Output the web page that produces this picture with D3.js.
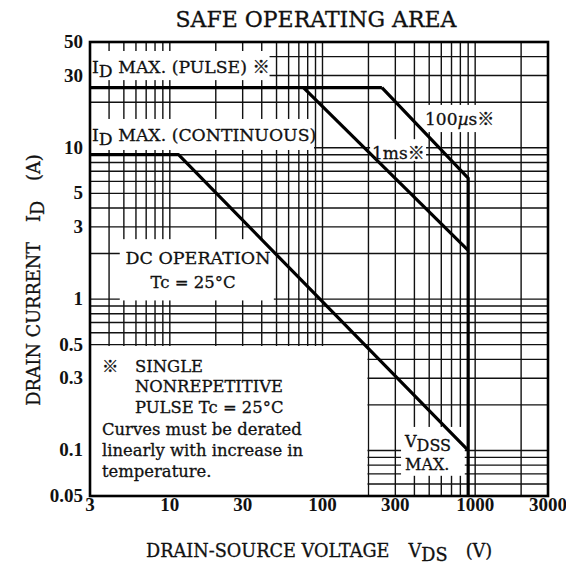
<!DOCTYPE html>
<html>
<head>
<meta charset="utf-8">
<script src="https://cdn.jsdelivr.net/npm/d3@7"></script>
<style>
  body { margin: 0; background: #fff; }
  text { font-family: "DejaVu Serif", "Liberation Serif", "Noto Sans CJK JP", serif; fill: #111; stroke: #111; stroke-width: 0.3; }
  .tick { font-family: "Liberation Serif", "DejaVu Serif", serif; font-weight: bold; stroke-width: 0; }
</style>
</head>
<body>
<div id="chart"></div>
<script>
// axis ticks
const xTicks = [3, 10, 30, 100, 300, 1000, 3000];
const yTicks = [0.05, 0.1, 0.3, 0.5, 1, 3, 5, 10, 30, 50];

// limit curves as [V, A] points
const pulseMax = [[3, 25], [245, 25]];
const oneMs = [[75, 25], [900, 2.1]];
const hundredUs = [[245, 25], [900, 6.3], [900, 0.05]];
const dcLimit = [[3, 9], [11.4, 9], [900, 0.1]];

// blank patches of the printed grid behind the labels, [V0, V1, A0, A1]
const blankBoxes = [
  [3, 45, 28, 43.6],
  [3, 88, 9.67, 15.5],
  [4.7, 48, 0.98, 2.49],
  [3, 197, 0.05, 0.49],
  [327, 855, 0.068, 0.143],
  [447, 1450, 12.7, 19.2],
  [205, 477, 8.2, 11.4]
];

const width = 566, height = 564;
const marginLeft = 90, marginRight = 18, marginTop = 42, marginBottom = 68;

const x = d3.scaleLog([3, 3000], [marginLeft, width - marginRight]);
const y = d3.scaleLog([0.05, 50], [height - marginBottom, marginTop]);

const svg = d3.select("#chart")
  .append("svg")
  .attr("width", width)
  .attr("height", height)
  .attr("viewBox", [0, 0, width, height]);

// grid
const grid = svg.append("g").attr("stroke", "#111").attr("stroke-width", 1.4);
grid.selectAll(".vx")
  .data(x.ticks())
  .join("line")
  .attr("x1", d => x(d)).attr("x2", d => x(d))
  .attr("y1", y(50)).attr("y2", y(0.05));
grid.selectAll(".hy")
  .data(y.ticks())
  .join("line")
  .attr("y1", d => y(d)).attr("y2", d => y(d))
  .attr("x1", x(3)).attr("x2", x(3000));

// white patches
svg.append("g")
  .selectAll("rect")
  .data(blankBoxes)
  .join("rect")
  .attr("x", d => x(d[0]))
  .attr("y", d => y(d[3]))
  .attr("width", d => x(d[1]) - x(d[0]))
  .attr("height", d => y(d[2]) - y(d[3]))
  .attr("fill", "#fff");

// curves
const line = d3.line().x(d => x(d[0])).y(d => y(d[1]));
svg.append("g")
  .attr("fill", "none")
  .attr("stroke", "#000")
  .attr("stroke-width", 3.2)
  .attr("stroke-linejoin", "round")
  .selectAll("path")
  .data([pulseMax, oneMs, hundredUs, dcLimit])
  .join("path")
  .attr("d", line);

// frame
svg.append("rect")
  .attr("x", x(3)).attr("y", y(50))
  .attr("width", x(3000) - x(3))
  .attr("height", y(0.05) - y(50))
  .attr("fill", "none")
  .attr("stroke", "#000")
  .attr("stroke-width", 2.6);

// tick labels
svg.append("g")
  .selectAll("text")
  .data(yTicks)
  .join("text")
  .attr("class", "tick")
  .attr("x", x(3) - 7)
  .attr("y", d => y(d) + 6)
  .attr("text-anchor", "end")
  .attr("font-size", 19)
  .text(d => d);

svg.append("g")
  .selectAll("text")
  .data(xTicks)
  .join("text")
  .attr("class", "tick")
  .attr("x", d => x(d))
  .attr("y", y(0.05) + 15)
  .attr("text-anchor", "middle")
  .attr("font-size", 19)
  .text(d => d);

// title
svg.append("text")
  .attr("x", 316).attr("y", 27)
  .attr("text-anchor", "middle")
  .attr("font-size", 22)
  .text("SAFE OPERATING AREA");

// axis titles
const xt = svg.append("text")
  .attr("x", 146).attr("y", 557)
  .attr("font-size", 17.7);
xt.append("tspan").text("DRAIN-SOURCE VOLTAGE");
xt.append("tspan").attr("dx", 19).text("V");
xt.append("tspan").attr("dy", 4).text("DS");
xt.append("tspan").attr("dx", 18).attr("dy", -4).text("(V)");

const yt = svg.append("text")
  .attr("transform", "translate(40,280) rotate(-90)")
  .attr("text-anchor", "middle")
  .attr("font-size", 17.7);
yt.append("tspan").text("DRAIN CURRENT");
yt.append("tspan").attr("dx", 20).text("I");
yt.append("tspan").attr("dy", 4).text("D");
yt.append("tspan").attr("dx", 20).attr("dy", -4).text("(A)");

// labels inside the plot
function subLabel(px, py, main, sub, rest, size) {
  const t = svg.append("text").attr("x", px).attr("y", py).attr("font-size", size);
  t.append("tspan").text(main);
  t.append("tspan").attr("dy", 4).text(sub);
  if (rest) t.append("tspan").attr("dy", -4).text(rest);
  return t;
}
subLabel(92, 73, "I", "D", " MAX. (PULSE) ※", 17.3);
subLabel(92, 141, "I", "D", " MAX. (CONTINUOUS)", 17.3);
subLabel(405, 447, "V", "DSS", null, 16);

svg.append("text").attr("x", 405).attr("y", 470).attr("font-size", 16).text("MAX.");

const us = svg.append("text").attr("x", 425).attr("y", 125).attr("font-size", 17);
us.append("tspan").text("100");
us.append("tspan").attr("font-style", "italic").text("µ");
us.append("tspan").text("s※");

svg.append("text").attr("x", 372).attr("y", 159).attr("font-size", 17).text("1ms※");

svg.append("text").attr("x", 198).attr("y", 264).attr("text-anchor", "middle")
  .attr("font-size", 17.5).text("DC OPERATION");
svg.append("text").attr("x", 193).attr("y", 288).attr("text-anchor", "middle")
  .attr("font-size", 16.5).text("Tc = 25°C");

// note
const noteLines = [
  [102, 372, "※"],
  [135, 372, "SINGLE"],
  [135, 392, "NONREPETITIVE"],
  [135, 413, "PULSE Tc = 25°C"],
  [102, 435, "Curves must be derated"],
  [102, 456, "linearly with increase in"],
  [102, 477, "temperature."]
];
svg.append("g")
  .selectAll("text")
  .data(noteLines)
  .join("text")
  .attr("x", d => d[0])
  .attr("y", d => d[1])
  .attr("font-size", 16.4)
  .text(d => d[2]);
</script>
</body>
</html>
